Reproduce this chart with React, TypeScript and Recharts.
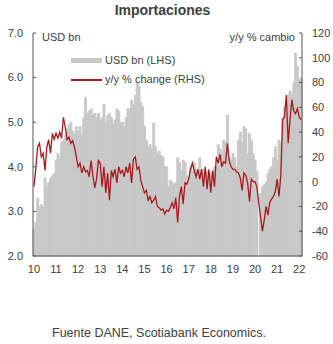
import { ComposedChart, Bar, Line, XAxis, YAxis } from "recharts"

const years = ["10", "11", "12", "13", "14", "15", "16", "17", "18", "19", "20", "21", "22"]

// monthly imports, USD bn (LHS), Jan 2010 - Feb 2022
const usdBn = [
  2.6, 2.75, 3.3, 3.1, 3.15, 3.1, 3.75, 3.55, 3.65, 3.75, 3.8, 3.85,
  4.15, 4.3, 4.2, 4.55, 4.6, 4.7, 4.85, 4.95, 5.0, 4.8, 4.75, 4.9,
  4.8, 4.9, 4.7, 5.1, 5.55, 5.2, 5.25, 5.3, 5.15, 5.2, 5.1, 5.2,
  5.05, 5.1, 5.4, 5.0, 5.15, 5.2, 5.1, 4.95, 5.05, 5.3, 5.25, 5.0,
  5.0, 4.9, 5.1, 5.3, 5.3, 5.5, 5.4, 5.6, 5.88, 5.8, 5.45, 5.35,
  4.9, 4.6, 4.45, 4.5, 4.4, 4.98, 4.45, 4.3, 4.35, 4.25, 4.22, 4.0,
  4.0, 3.55, 3.7, 3.65, 3.6, 3.65, 4.2, 4.1, 3.9, 4.15, 4.1, 3.8,
  3.77, 4.0, 3.9, 4.1, 3.95, 3.93, 4.2, 3.9, 3.95, 3.85, 3.9, 3.8,
  3.85, 3.9, 4.0, 4.0, 4.5, 4.4, 4.3, 4.6, 4.55, 5.16, 4.2, 4.15,
  4.3, 4.2, 4.0, 4.6, 4.78, 4.55, 4.9, 4.85, 4.3, 4.75, 4.6, 4.3,
  4.15, 3.9, null, 3.4, 3.55, 3.6, 3.65, 3.85, 3.95, 4.0, 4.2, 4.45,
  4.15, 4.6, 4.55, 5.1, 5.35, 5.2, 5.6, 5.7, 5.6, 5.88, 6.55, 6.25,
  5.95, 6.0,
]

// y/y % change (RHS)
const yoyChange = [
  -4, 10, 28, 31, 20, 23, 9, 28, 34, 23, 39, 34,
  39, 35, 40, 35, 52, 44, 34, 36, 31, 33, 28, 20,
  12, 15, 7, 12, 8, 9, 4, 17, 5, -5, 2, 17,
  15, -4, 12, -9, 7, -15, 9, 4, 10, -1, 12, 7,
  9, 4, 12, 7, 15, -1, 18, 20, 10, 12, 1, -4,
  -9, -7, -15, -12, -17, -15, -12, -20, -21, -23, -22, -26,
  -23, -24, -21, -17, -22, -13, -33, -12, -4, -18, -1, -2,
  2, 10, 15, 9, 4, 10, 2, 10, -4, 12, -6, 10,
  -9, 9, -4, 20, 15, 22, 12, 16, 15, 31, 17, 12,
  10, 10, 8, 7, 3, -7, 7, 5, -1, -16, 2, 0,
  0, -4, -17, -28, -40, -31, -20, -27, -17, -14, -12, -8,
  2, -12, 5, 50, 52, 70, 31, 50, 66, 57, 55, 59,
  52, 50,
]

const leftTicks = [2, 2.5, 3, 3.5, 4, 4.5, 5, 5.5, 6, 6.5, 7]
const rightTicks = [-60, -40, -20, 0, 20, 40, 60, 80, 100, 120]

const data = usdBn.map((v, i) => ({
  month: `${years[Math.floor(i / 12)]}-${(i % 12) + 1}`,
  usd: v,
  yoy: yoyChange[i],
}))
const janTicks = years.map((y) => `${y}-1`)

const BAR = "#c8c8c8"
const RED = "#a8191c"
const AXIS = "#555"
const TEXT = "#404040"
const FONT = "'Liberation Sans', Arial, sans-serif"

function LeftTick({ x, y, payload }: any) {
  const ax = x + 10
  return (
    <g>
      <line x1={ax} x2={ax + 3} y1={y} y2={y} stroke={AXIS} />
      <text x={x} y={y} dy="0.35em" textAnchor="end" fontSize={11} fill={TEXT}>
        {Number(payload.value).toFixed(1)}
      </text>
    </g>
  )
}

function RightTick({ x, y, payload }: any) {
  const ax = x - 10
  return (
    <g>
      <line x1={ax - 3} x2={ax} y1={y} y2={y} stroke={AXIS} />
      <text x={x} y={y} dy="0.35em" textAnchor="start" fontSize={11} fill={TEXT}>
        {payload.value}
      </text>
    </g>
  )
}

const label = (extra: any) => ({
  position: "absolute" as const,
  fontSize: 11,
  lineHeight: "13px",
  color: TEXT,
  whiteSpace: "nowrap" as const,
  ...extra,
})

export default function App() {
  return (
    <div style={{ position: "absolute", left: 0, top: 0, width: 333, height: 344, background: "#fff", fontFamily: FONT }}>
      <div style={{ position: "absolute", left: 0, width: 325, top: 2, textAlign: "center", fontSize: 14, fontWeight: "bold", lineHeight: "16px", color: TEXT }}>
        Importaciones
      </div>
      <ComposedChart
        width={333}
        height={285}
        data={data}
        margin={{ top: 33, right: 0, bottom: 0, left: 0 }}
        barCategoryGap={0}
        barGap={0}
      >
        <XAxis
          dataKey="month"
          ticks={janTicks}
          interval={0}
          tickFormatter={(v: string) => v.split("-")[0]}
          tickLine={false}
          tickMargin={3}
          height={29}
          axisLine={{ stroke: AXIS }}
          tick={{ fontSize: 11, fill: TEXT }}
        />
        <YAxis
          yAxisId="left"
          orientation="left"
          width={33}
          domain={[2, 7]}
          ticks={leftTicks}
          tickSize={0}
          tickMargin={10}
          tickLine={false}
          axisLine={{ stroke: AXIS }}
          tick={LeftTick}
        />
        <YAxis
          yAxisId="right"
          orientation="right"
          width={31}
          domain={[-60, 120]}
          ticks={rightTicks}
          tickSize={0}
          tickMargin={10}
          tickLine={false}
          axisLine={{ stroke: AXIS }}
          tick={RightTick}
        />
        <Bar yAxisId="left" dataKey="usd" fill={BAR} stroke={BAR} strokeWidth={0.9} isAnimationActive={false} />
        <Line yAxisId="right" type="linear" dataKey="yoy" stroke={RED} strokeWidth={1.3} dot={false} isAnimationActive={false} />
      </ComposedChart>

      <div style={label({ left: 42, top: 31 })}>USD bn</div>
      <div style={label({ right: 333 - 295, top: 31 })}>y/y % cambio</div>

      <div style={{ position: "absolute", left: 71, top: 58, width: 31, height: 4.5, background: BAR }} />
      <div style={label({ left: 105, top: 54 })}>USD bn (LHS)</div>
      <div style={{ position: "absolute", left: 71, top: 79, width: 31, height: 1.5, background: RED }} />
      <div style={label({ left: 105, top: 73 })}>y/y % change (RHS)</div>

      <div style={{ position: "absolute", left: 52, top: 326, fontSize: 12.5, lineHeight: "15px", color: TEXT, whiteSpace: "nowrap" }}>
        Fuente DANE, Scotiabank Economics.
      </div>
    </div>
  )
}
